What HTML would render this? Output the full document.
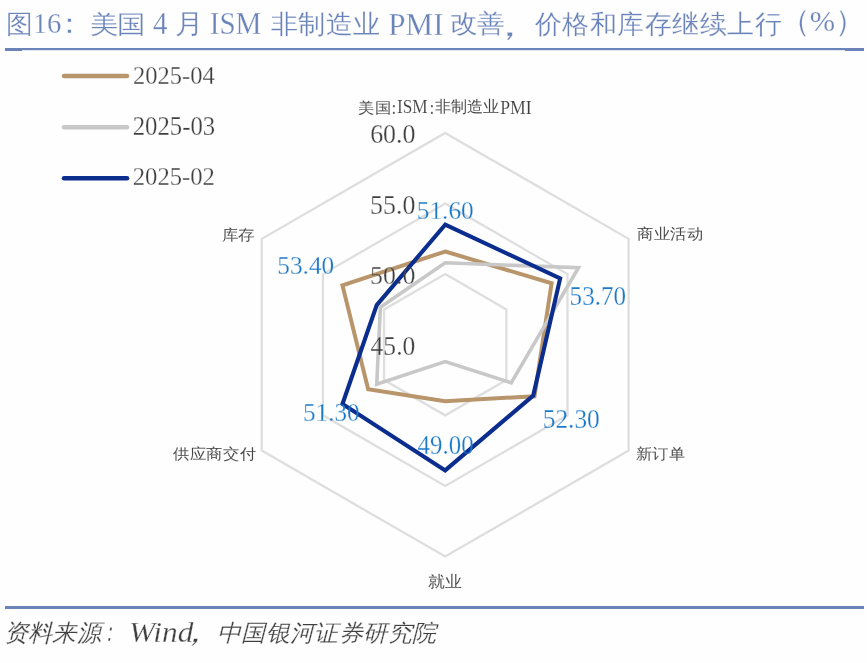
<!DOCTYPE html>
<html><head><meta charset="utf-8">
<style>
html,body{margin:0;padding:0;background:#fff;}
body{width:867px;height:663px;overflow:hidden;position:relative;}
svg{position:absolute;left:0;top:0;display:block;}
text{font-family:"Liberation Serif",serif;}
</style></head><body>
<svg width="867" height="663" viewBox="0 0 867 663">
<rect x="0" y="0" width="867" height="663" fill="#fefefe"/>
<mask id="m25" maskUnits="userSpaceOnUse" x="3.9" y="8.2" width="30.4" height="31.8"><text transform="translate(5.71 32.83) scale(1.0330 1)" font-size="26.44" fill="#fff" stroke="#000" stroke-width="0.30">图</text></mask><rect x="3.9" y="8.2" width="30.4" height="31.8" fill="#6a83b9" mask="url(#m25)"/>
<mask id="m26" maskUnits="userSpaceOnUse" x="31.3" y="10.4" width="33.3" height="27.4"><text transform="translate(32.71 33.23) scale(1.0077 1)" font-size="28.53" fill="#fff" stroke="#000" stroke-width="0.35">16</text></mask><rect x="31.3" y="10.4" width="33.3" height="27.4" fill="#6a83b9" mask="url(#m26)"/>
<mask id="m27" maskUnits="userSpaceOnUse" x="63.5" y="14.7" width="11.5" height="22.4"><text transform="translate(54.67 33.10) scale(1.0330 1)" font-size="28.24" fill="#fff" stroke="#000" stroke-width="0.30">：</text></mask><rect x="63.5" y="14.7" width="11.5" height="22.4" fill="#6a83b9" mask="url(#m27)"/>
<mask id="m28" maskUnits="userSpaceOnUse" x="87.5" y="8.0" width="59.5" height="32.0"><text transform="translate(89.82 32.82) scale(1.1429 1)" font-size="24.49" fill="#fff" stroke="#000" stroke-width="0.30">美国</text></mask><rect x="87.5" y="8.0" width="59.5" height="32.0" fill="#6a83b9" mask="url(#m28)"/>
<mask id="m29" maskUnits="userSpaceOnUse" x="149.5" y="8.8" width="21.3" height="28.7"><text transform="translate(152.92 33.50) scale(0.9079 1)" font-size="31.85" fill="#fff" stroke="#000" stroke-width="0.35">4</text></mask><rect x="149.5" y="8.8" width="21.3" height="28.7" fill="#6a83b9" mask="url(#m29)"/>
<mask id="m30" maskUnits="userSpaceOnUse" x="172.3" y="8.3" width="28.8" height="31.8"><text transform="translate(174.88 32.85) scale(1.0535 1)" font-size="27.05" fill="#fff" stroke="#000" stroke-width="0.30">月</text></mask><rect x="172.3" y="8.3" width="28.8" height="31.8" fill="#6a83b9" mask="url(#m30)"/>
<mask id="m31" maskUnits="userSpaceOnUse" x="206.9" y="9.8" width="57.8" height="28.8"><text transform="translate(209.74 33.98) scale(0.9381 1)" font-size="31.04" fill="#fff" stroke="#000" stroke-width="0.35">ISM</text></mask><rect x="206.9" y="9.8" width="57.8" height="28.8" fill="#6a83b9" mask="url(#m31)"/>
<mask id="m32" maskUnits="userSpaceOnUse" x="267.1" y="7.2" width="115.6" height="33.1"><text transform="translate(270.55 32.64) scale(1.0445 1)" font-size="26.15" fill="#fff" stroke="#000" stroke-width="0.30">非制造业</text></mask><rect x="267.1" y="7.2" width="115.6" height="33.1" fill="#6a83b9" mask="url(#m32)"/>
<mask id="m33" maskUnits="userSpaceOnUse" x="385.3" y="9.8" width="61.0" height="28.8"><text transform="translate(388.37 34.60) scale(0.9686 1)" font-size="32.00" fill="#fff" stroke="#000" stroke-width="0.35">PMI</text></mask><rect x="385.3" y="9.8" width="61.0" height="28.8" fill="#6a83b9" mask="url(#m33)"/>
<mask id="m34" maskUnits="userSpaceOnUse" x="447.5" y="7.3" width="59.9" height="32.8"><text transform="translate(450.14 32.42) scale(1.1066 1)" font-size="24.55" fill="#fff" stroke="#000" stroke-width="0.30">改善</text></mask><rect x="447.5" y="7.3" width="59.9" height="32.8" fill="#6a83b9" mask="url(#m34)"/>
<mask id="m35" maskUnits="userSpaceOnUse" x="502.9" y="28.1" width="13.2" height="15.5"><text transform="translate(485.63 35.54) scale(1.5127 1)" font-size="31.25" fill="#fff" stroke="#000" stroke-width="0.30">，</text></mask><rect x="502.9" y="28.1" width="13.2" height="15.5" fill="#6a83b9" mask="url(#m35)"/>
<mask id="m36" maskUnits="userSpaceOnUse" x="530.7" y="6.9" width="253.6" height="33.6"><text transform="translate(534.70 33.07) scale(1.0375 1)" font-size="26.39" fill="#fff" stroke="#000" stroke-width="0.30">价格和库存继续上行</text></mask><rect x="530.7" y="6.9" width="253.6" height="33.6" fill="#6a83b9" mask="url(#m36)"/>
<mask id="m37" maskUnits="userSpaceOnUse" x="795.3" y="6.9" width="54.5" height="33.6"><text transform="translate(779.55 31.38) scale(1.0091 1)" font-size="30.12" fill="#fff" stroke="#000" stroke-width="0.30">（%）</text></mask><rect x="795.3" y="6.9" width="54.5" height="33.6" fill="#6a83b9" mask="url(#m37)"/>
<rect x="5" y="48" width="859" height="2.2" fill="#6a83b9"/>
<rect x="5" y="48" width="17" height="3" fill="#6a83b9"/>
<rect x="845" y="48" width="19" height="3" fill="#6a83b9"/>
<polygon points="445.20,274.10 506.34,309.40 506.34,380.00 445.20,415.30 384.06,380.00 384.06,309.40" fill="none" stroke="#dedede" stroke-width="2.3"/>
<polygon points="445.20,203.50 567.48,274.10 567.48,415.30 445.20,485.90 322.92,415.30 322.92,274.10" fill="none" stroke="#dedede" stroke-width="2.3"/>
<polygon points="445.20,132.90 628.62,238.80 628.62,450.60 445.20,556.50 261.78,450.60 261.78,238.80" fill="none" stroke="#dedede" stroke-width="2.3"/>

<polygon points="445.20,251.51 551.59,283.28 534.47,396.24 445.20,401.18 368.16,389.18 342.48,285.40" fill="none" stroke="#b8956a" stroke-width="4.0" stroke-linejoin="miter"/>
<polygon points="445.20,262.80 578.49,267.75 511.23,382.82 445.20,361.64 376.72,384.24 380.39,307.28" fill="none" stroke="#c8c8c8" stroke-width="3.6" stroke-linejoin="miter"/>
<polygon points="445.20,224.68 560.15,278.34 533.24,395.53 445.20,470.37 342.48,404.00 376.72,305.16" fill="none" stroke="#0b2d8e" stroke-width="4.1" stroke-linejoin="miter"/>

<mask id="m4" maskUnits="userSpaceOnUse" x="367.2" y="121.9" width="51.3" height="26.0"><text transform="translate(370.16 143.36) scale(0.9651 1)" font-size="26.87" fill="#fff" stroke="#000" stroke-width="0.35">60.0</text></mask><rect x="367.2" y="121.9" width="51.3" height="26.0" fill="#404040" mask="url(#m4)"/>
<mask id="m5" maskUnits="userSpaceOnUse" x="367.6" y="192.6" width="50.7" height="25.6"><text transform="translate(370.05 213.67) scale(0.9852 1)" font-size="26.27" fill="#fff" stroke="#000" stroke-width="0.35">55.0</text></mask><rect x="367.6" y="192.6" width="50.7" height="25.6" fill="#404040" mask="url(#m5)"/>
<mask id="m6" maskUnits="userSpaceOnUse" x="367.6" y="263.6" width="50.7" height="25.0"><text transform="translate(370.05 284.09) scale(1.0199 1)" font-size="25.37" fill="#fff" stroke="#000" stroke-width="0.35">50.0</text></mask><rect x="367.6" y="263.6" width="50.7" height="25.0" fill="#404040" mask="url(#m6)"/>
<mask id="m7" maskUnits="userSpaceOnUse" x="367.1" y="333.6" width="51.2" height="25.7"><text transform="translate(370.59 354.77) scale(0.9676 1)" font-size="26.42" fill="#fff" stroke="#000" stroke-width="0.35">45.0</text></mask><rect x="367.1" y="333.6" width="51.2" height="25.7" fill="#404040" mask="url(#m7)"/>
<mask id="m8" maskUnits="userSpaceOnUse" x="355.2" y="95.7" width="38.6" height="23.0"><text transform="translate(358.20 112.71) scale(1.0865 1)" font-size="15.31" fill="#fff" stroke="#000" stroke-width="0.12">美国</text></mask><rect x="355.2" y="95.7" width="38.6" height="23.0" fill="#404040" mask="url(#m8)"/>
<mask id="m9" maskUnits="userSpaceOnUse" x="388.9" y="100.5" width="10.1" height="17.2"><text transform="translate(391.50 113.51) scale(0.9130 1)" font-size="19.17" fill="#fff" stroke="#000" stroke-width="0.20">:</text></mask><rect x="388.9" y="100.5" width="10.1" height="17.2" fill="#404040" mask="url(#m9)"/>
<mask id="m10" maskUnits="userSpaceOnUse" x="393.6" y="96.8" width="37.5" height="20.8"><text transform="translate(396.91 113.22) scale(0.9030 1)" font-size="19.10" fill="#fff" stroke="#000" stroke-width="0.20">ISM</text></mask><rect x="393.6" y="96.8" width="37.5" height="20.8" fill="#404040" mask="url(#m10)"/>
<mask id="m11" maskUnits="userSpaceOnUse" x="426.8" y="100.5" width="10.1" height="17.2"><text transform="translate(429.40 113.51) scale(0.9130 1)" font-size="19.17" fill="#fff" stroke="#000" stroke-width="0.20">:</text></mask><rect x="426.8" y="100.5" width="10.1" height="17.2" fill="#404040" mask="url(#m11)"/>
<mask id="m12" maskUnits="userSpaceOnUse" x="430.9" y="95.0" width="72.8" height="23.7"><text transform="translate(434.57 112.41) scale(1.0057 1)" font-size="16.35" fill="#fff" stroke="#000" stroke-width="0.12">非制造业</text></mask><rect x="430.9" y="95.0" width="72.8" height="23.7" fill="#404040" mask="url(#m12)"/>
<mask id="m13" maskUnits="userSpaceOnUse" x="496.8" y="96.8" width="38.2" height="20.8"><text transform="translate(500.27 113.60) scale(0.8968 1)" font-size="19.69" fill="#fff" stroke="#000" stroke-width="0.20">PMI</text></mask><rect x="496.8" y="96.8" width="38.2" height="20.8" fill="#404040" mask="url(#m13)"/>
<mask id="m14" maskUnits="userSpaceOnUse" x="633.3" y="222.5" width="71.4" height="22.5"><text transform="translate(636.97 239.06) scale(1.0875 1)" font-size="14.95" fill="#fff" stroke="#000" stroke-width="0.12">商业活动</text></mask><rect x="633.3" y="222.5" width="71.4" height="22.5" fill="#404040" mask="url(#m14)"/>
<mask id="m15" maskUnits="userSpaceOnUse" x="632.0" y="442.3" width="56.7" height="22.9"><text transform="translate(635.67 459.20) scale(1.0784 1)" font-size="15.36" fill="#fff" stroke="#000" stroke-width="0.12">新订单</text></mask><rect x="632.0" y="442.3" width="56.7" height="22.9" fill="#404040" mask="url(#m15)"/>
<mask id="m16" maskUnits="userSpaceOnUse" x="424.0" y="569.3" width="41.3" height="23.3"><text transform="translate(427.66 586.65) scale(1.0546 1)" font-size="16.28" fill="#fff" stroke="#000" stroke-width="0.12">就业</text></mask><rect x="424.0" y="569.3" width="41.3" height="23.3" fill="#404040" mask="url(#m16)"/>
<mask id="m17" maskUnits="userSpaceOnUse" x="168.9" y="442.5" width="88.8" height="22.9"><text transform="translate(172.90 459.02) scale(1.0911 1)" font-size="14.90" fill="#fff" stroke="#000" stroke-width="0.12">供应商交付</text></mask><rect x="168.9" y="442.5" width="88.8" height="22.9" fill="#404040" mask="url(#m17)"/>
<mask id="m18" maskUnits="userSpaceOnUse" x="218.2" y="223.1" width="39.5" height="22.5"><text transform="translate(221.54 239.66) scale(1.0975 1)" font-size="14.95" fill="#fff" stroke="#000" stroke-width="0.12">库存</text></mask><rect x="218.2" y="223.1" width="39.5" height="22.5" fill="#404040" mask="url(#m18)"/>
<mask id="m19" maskUnits="userSpaceOnUse" x="414.3" y="198.6" width="62.4" height="25.4"><text transform="translate(416.78 219.49) scale(0.9888 1)" font-size="25.59" fill="#fff" stroke="#000" stroke-width="0.35">51.60</text></mask><rect x="414.3" y="198.6" width="62.4" height="25.4" fill="#1a78c8" mask="url(#m19)"/>
<mask id="m20" maskUnits="userSpaceOnUse" x="567.1" y="284.2" width="62.0" height="25.6"><text transform="translate(569.59 305.27) scale(0.9561 1)" font-size="26.27" fill="#fff" stroke="#000" stroke-width="0.35">53.70</text></mask><rect x="567.1" y="284.2" width="62.0" height="25.6" fill="#1a78c8" mask="url(#m20)"/>
<mask id="m21" maskUnits="userSpaceOnUse" x="540.3" y="406.6" width="62.5" height="25.7"><text transform="translate(542.78 427.77) scale(0.9595 1)" font-size="26.42" fill="#fff" stroke="#000" stroke-width="0.35">52.30</text></mask><rect x="540.3" y="406.6" width="62.5" height="25.7" fill="#1a78c8" mask="url(#m21)"/>
<mask id="m22" maskUnits="userSpaceOnUse" x="414.1" y="432.6" width="62.5" height="25.6"><text transform="translate(417.60 453.67) scale(0.9474 1)" font-size="26.27" fill="#fff" stroke="#000" stroke-width="0.35">49.00</text></mask><rect x="414.1" y="432.6" width="62.5" height="25.6" fill="#1a78c8" mask="url(#m22)"/>
<mask id="m23" maskUnits="userSpaceOnUse" x="300.5" y="399.5" width="62.1" height="25.6"><text transform="translate(302.99 420.58) scale(0.9722 1)" font-size="25.88" fill="#fff" stroke="#000" stroke-width="0.35">51.30</text></mask><rect x="300.5" y="399.5" width="62.1" height="25.6" fill="#1a78c8" mask="url(#m23)"/>
<mask id="m24" maskUnits="userSpaceOnUse" x="274.8" y="253.5" width="62.5" height="25.5"><text transform="translate(277.28 274.48) scale(0.9705 1)" font-size="26.12" fill="#fff" stroke="#000" stroke-width="0.35">53.40</text></mask><rect x="274.8" y="253.5" width="62.5" height="25.5" fill="#1a78c8" mask="url(#m24)"/>
<g stroke-width="4.5" stroke-linecap="round">
<line x1="64" y1="76" x2="127" y2="76" stroke="#b8956a"/>
<line x1="64" y1="127.3" x2="127" y2="127.3" stroke="#c8c8c8"/>
<line x1="64" y1="178.3" x2="127" y2="178.3" stroke="#0b2d8e"/>
</g>
<mask id="m1" maskUnits="userSpaceOnUse" x="130.0" y="62.9" width="88.4" height="25.3"><text transform="translate(133.02 83.68) scale(0.9493 1)" font-size="25.82" fill="#fff" stroke="#000" stroke-width="0.35">2025-04</text></mask><rect x="130.0" y="62.9" width="88.4" height="25.3" fill="#404040" mask="url(#m1)"/>
<mask id="m2" maskUnits="userSpaceOnUse" x="129.7" y="113.7" width="88.4" height="25.7"><text transform="translate(132.71 134.87) scale(0.9364 1)" font-size="26.42" fill="#fff" stroke="#000" stroke-width="0.35">2025-03</text></mask><rect x="129.7" y="113.7" width="88.4" height="25.7" fill="#404040" mask="url(#m2)"/>
<mask id="m3" maskUnits="userSpaceOnUse" x="129.7" y="165.0" width="88.0" height="24.9"><text transform="translate(132.71 185.40) scale(0.9789 1)" font-size="25.22" fill="#fff" stroke="#000" stroke-width="0.35">2025-02</text></mask><rect x="129.7" y="165.0" width="88.0" height="24.9" fill="#404040" mask="url(#m3)"/>
<rect x="5" y="606" width="859" height="3" fill="#6a83b9"/>
<mask id="m38" maskUnits="userSpaceOnUse" x="2.7" y="617.3" width="106.3" height="30.9"><text transform="translate(4.27 641.07) scale(1.0069 1)" font-size="24.11" fill="#fff" stroke="#000" stroke-width="0.30" font-style="italic">资料来源</text></mask><rect x="2.7" y="617.3" width="106.3" height="30.9" fill="#404040" mask="url(#m38)"/>
<mask id="m39" maskUnits="userSpaceOnUse" x="104.7" y="623.7" width="11.7" height="21.5"><text transform="translate(101.46 641.20) scale(0.6077 1)" font-size="26.47" fill="#fff" stroke="#000" stroke-width="0.30" font-style="italic">：</text></mask><rect x="104.7" y="623.7" width="11.7" height="21.5" fill="#404040" mask="url(#m39)"/>
<mask id="m40" maskUnits="userSpaceOnUse" x="127.2" y="618.5" width="70.3" height="28.2"><text transform="translate(129.01 642.13) scale(1.1004 1)" font-size="28.45" fill="#fff" stroke="#000" stroke-width="0.35" font-style="italic">Wind</text></mask><rect x="127.2" y="618.5" width="70.3" height="28.2" fill="#404040" mask="url(#m40)"/>
<mask id="m41" maskUnits="userSpaceOnUse" x="188.0" y="635.0" width="14.0" height="14.7"><text transform="translate(177.18 642.07) scale(1.2643 1)" font-size="27.92" fill="#fff" stroke="#000" stroke-width="0.30" font-style="italic">，</text></mask><rect x="188.0" y="635.0" width="14.0" height="14.7" fill="#404040" mask="url(#m41)"/>
<mask id="m42" maskUnits="userSpaceOnUse" x="215.7" y="617.5" width="225.0" height="30.7"><text transform="translate(217.05 641.16) scale(1.0303 1)" font-size="23.40" fill="#fff" stroke="#000" stroke-width="0.30" font-style="italic">中国银河证券研究院</text></mask><rect x="215.7" y="617.5" width="225.0" height="30.7" fill="#404040" mask="url(#m42)"/>
</svg>
</body></html>
